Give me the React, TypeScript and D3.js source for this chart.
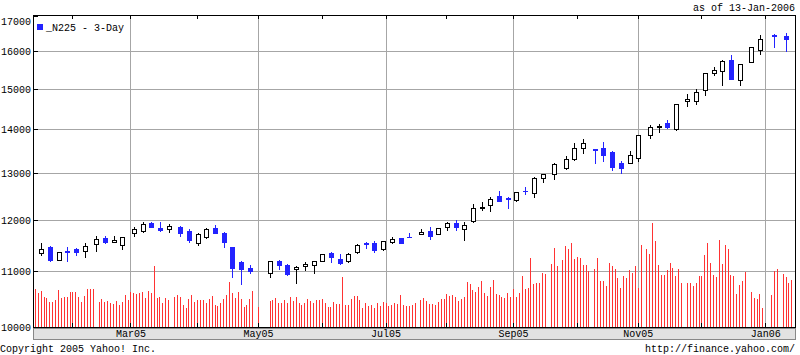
import React from "react";
import * as d3 from "d3";

// ---- data ----
const priceTicks = [10000, 11000, 12000, 13000, 14000, 15000, 16000, 17000];
// weekday index (0 = 13-Jan-2005) of the first weekday of each month
const monthStarts = [13, 33, 56, 77, 99, 121, 142, 165, 187, 208, 230, 252];
const monthLabels = ["", "Mar05", "", "May05", "", "Jul05", "", "Sep05", "", "Nov05", "", "Jan06"];
const legendLabel = "_N225 - 3-Day";
const asOfLabel = "as of 13-Jan-2006";
const copyrightLabel = "Copyright 2005 Yahoo! Inc.";
const urlLabel = "http://finance.yahoo.com/";

// 3-day candles: [weekday index, open, high, low, close]
const candles: [number, number, number, number, number][] = [
  [2, 11339, 11535, 11301, 11417],
  [5, 11467, 11480, 11197, 11210],
  [8, 11205, 11359, 11205, 11359],
  [11, 11382, 11455, 11197, 11374],
  [14, 11422, 11442, 11313, 11371],
  [17, 11378, 11535, 11261, 11474],
  [21, 11515, 11678, 11390, 11613],
  [24, 11633, 11678, 11546, 11566],
  [27, 11554, 11672, 11554, 11594],
  [30, 11495, 11652, 11428, 11652],
  [34, 11733, 11853, 11685, 11813],
  [37, 11773, 11961, 11753, 11915],
  [40, 11941, 11961, 11853, 11853],
  [43, 11839, 11961, 11773, 11805],
  [46, 11813, 11915, 11753, 11873],
  [50, 11859, 11886, 11672, 11733],
  [53, 11773, 11813, 11554, 11594],
  [56, 11535, 11733, 11495, 11713],
  [59, 11652, 11833, 11633, 11813],
  [62, 11833, 11894, 11733, 11733],
  [65, 11733, 11753, 11455, 11554],
  [68, 11455, 11455, 10895, 11052],
  [71, 11167, 11186, 10756, 11034],
  [74, 11052, 11110, 10959, 10996],
  [81, 10959, 11186, 10884, 11186],
  [84, 11186, 11205, 11034, 11110],
  [87, 11110, 11129, 10922, 10940],
  [90, 11034, 11089, 10774, 11071],
  [93, 11089, 11167, 11015, 11129],
  [96, 11110, 11186, 10959, 11186],
  [99, 11186, 11320, 11186, 11320],
  [102, 11339, 11359, 11167, 11261],
  [105, 11224, 11320, 11129, 11148],
  [108, 11186, 11339, 11167, 11320],
  [111, 11359, 11515, 11339, 11495],
  [114, 11542, 11554, 11436, 11530],
  [117, 11535, 11574, 11359, 11397],
  [120, 11417, 11574, 11397, 11574],
  [123, 11554, 11652, 11535, 11613],
  [126, 11635, 11635, 11550, 11550],
  [129, 11667, 11745, 11652, 11660],
  [133, 11713, 11825, 11713, 11765],
  [136, 11785, 11865, 11625, 11685],
  [139, 11713, 11833, 11713, 11833],
  [142, 11865, 11968, 11799, 11947],
  [145, 11947, 12008, 11805, 11865],
  [148, 11825, 11968, 11599, 11907],
  [151, 11988, 12329, 11968, 12244],
  [154, 12247, 12377, 12215, 12262],
  [157, 12307, 12475, 12194, 12433],
  [160, 12496, 12605, 12391, 12391],
  [163, 12467, 12475, 12256, 12433],
  [166, 12412, 12584, 12391, 12584],
  [169, 12617, 12697, 12554, 12605],
  [172, 12575, 12922, 12488, 12887],
  [175, 12887, 12976, 12800, 12976],
  [179, 12976, 13235, 12878, 13199],
  [183, 13109, 13379, 13087, 13312],
  [186, 13312, 13681, 13289, 13564],
  [189, 13564, 13774, 13449, 13681],
  [193, 13541, 13541, 13222, 13527],
  [196, 13564, 13704, 13267, 13404],
  [199, 13472, 13495, 13065, 13131],
  [202, 13222, 13267, 12998, 13109],
  [205, 13222, 13495, 13222, 13404],
  [208, 13334, 13869, 13267, 13869],
  [212, 13869, 14108, 13797, 14059],
  [215, 14059, 14132, 13940, 14082],
  [218, 14156, 14228, 14035, 14059],
  [221, 14011, 14623, 13988, 14623],
  [225, 14698, 14875, 14571, 14747],
  [228, 14698, 15001, 14623, 14925],
  [231, 14976, 15417, 14849, 15417],
  [234, 15417, 15575, 15365, 15496],
  [237, 15470, 15763, 15105, 15736],
  [240, 15763, 15898, 15259, 15259],
  [243, 15234, 15656, 15105, 15656],
  [247, 15710, 16116, 15710, 16116],
  [250, 16034, 16451, 15926, 16338],
  [255, 16452, 16479, 16116, 16437],
  [259, 16429, 16507, 16015, 16346],
];

// daily volume (millions of shares), one per weekday from 13-Jan-2005; 0 = market holiday
const volumes = [
  943, 843, 893, 743, 718, 618, 618, 668, 918, 718,
  743, 743, 868, 868, 868, 743, 618, 768, 943, 943,
  943, 0, 618, 693, 618, 643, 593, 568, 643, 543,
  618, 793, 668, 868, 843, 818, 843, 868, 718, 893,
  843, 1518, 718, 743, 593, 718, 668, 0, 743, 793,
  743, 543, 468, 693, 793, 618, 668, 668, 668, 593,
  693, 768, 543, 518, 593, 693, 793, 1118, 843, 718,
  868, 693, 493, 543, 693, 893, 0, 493, 0, 0,
  0, 643, 668, 718, 593, 593, 668, 593, 743, 643,
  743, 593, 543, 593, 693, 643, 593, 668, 668, 693,
  593, 493, 493, 618, 568, 568, 1243, 543, 543, 693,
  768, 768, 668, 468, 593, 518, 543, 468, 593, 518,
  618, 593, 518, 543, 593, 568, 793, 543, 518, 518,
  543, 593, 0, 668, 718, 643, 568, 568, 543, 618,
  693, 693, 818, 768, 793, 743, 643, 693, 743, 1118,
  1068, 918, 868, 993, 1143, 843, 768, 993, 1168, 818,
  793, 743, 718, 843, 743, 943, 743, 843, 1268, 943,
  968, 1718, 1068, 1093, 1093, 1343, 1318, 0, 1568, 1968,
  1518, 0, 1668, 2018, 1943, 2093, 1693, 1743, 1718, 1543,
  1543, 1393, 0, 1443, 1718, 1143, 1143, 1018, 1593, 1518,
  1443, 1218, 968, 1268, 1218, 1418, 1343, 1518, 968, 2043,
  0, 1943, 1818, 2593, 2143, 1543, 1293, 1293, 1418, 1593,
  1468, 1268, 1443, 1093, 0, 1093, 1093, 1018, 1093, 1268,
  1268, 1793, 2093, 1593, 1293, 1243, 2168, 1568, 2043, 1943,
  1293, 1268, 818, 1043, 1143, 1368, 0, 868, 718, 693,
  818, 468, 0, 0, 793, 1400, 1450, 0, 1325, 1250,
  1100, 1175,
];

const BLUE = "#2323ff";
const RED = "#ff3333";
const GRID = "#a6a6a6";

export default function App() {
  const L = 33, R = 795, T = 15, B = 327;
  const x = d3.scaleLinear().domain([-0.8, 262.3]).range([33, 795.6]);
  const y = d3.scaleLog().domain([10000, 17000]).range([327, 16]);
  const yv = d3.scaleLinear().domain([0, 5000]).range([327, 127]);
  const h = (v: number) => Math.floor(v) + 0.5;

  return (
    <svg
      width={800}
      height={355}
      style={{ position: "absolute", left: 0, top: 0, display: "block" }}
      fontFamily="'Liberation Mono', 'DejaVu Sans Mono', monospace"
      fontSize={10}
    >
      <rect x={0} y={0} width={800} height={355} fill="#fff" />

      {/* horizontal grid */}
      {priceTicks.slice(1, -1).map((p) => (
        <line key={"hg" + p} x1={L + 5} x2={R} y1={h(y(p))} y2={h(y(p))} stroke={GRID} strokeWidth={1} />
      ))}
      {/* vertical grid */}
      {monthStarts.map((d, i) =>
        monthLabels[i] ? (
          <line key={"vg" + d} x1={h(x(d))} x2={h(x(d))} y1={T + 1} y2={B} stroke={GRID} strokeWidth={1} />
        ) : null
      )}

      {/* volume bars */}
      {volumes.map((v, i) =>
        v > 0 ? (
          <line key={"v" + i} x1={h(x(i))} x2={h(x(i))} y1={B} y2={Math.round(yv(v))} stroke={RED} strokeWidth={1} />
        ) : null
      )}

      {/* candles */}
      {candles.map(([d, o, hi, lo, c]) => {
        const cx = Math.round(x(d));
        const up = c >= o;
        const col = up ? "#000" : BLUE;
        const yt = Math.round(y(Math.max(o, c)));
        const yb = Math.round(y(Math.min(o, c)));
        const yh = Math.round(y(hi));
        const yl = Math.round(y(lo));
        const body =
          yb - yt < 1 ? (
            <line x1={cx - 2} x2={cx + 3} y1={yt + 0.5} y2={yt + 0.5} stroke={col} strokeWidth={1} />
          ) : up ? (
            <rect x={cx - 1.5} y={yt + 0.5} width={4} height={yb - yt} fill="#fff" stroke="#000" strokeWidth={1} />
          ) : (
            <rect x={cx - 2} y={yt} width={5} height={yb - yt + 1} fill={BLUE} />
          );
        return (
          <g key={"c" + d}>
            <line x1={cx + 0.5} x2={cx + 0.5} y1={yh} y2={yl + 1} stroke={col} strokeWidth={1} />
            {body}
          </g>
        );
      })}

      {/* frame */}
      <line x1={L + 0.5} x2={L + 0.5} y1={T} y2={B + 1} stroke="#000" />
      <line x1={L} x2={R + 1} y1={T + 0.5} y2={T + 0.5} stroke="#000" />
      <line x1={R + 0.5} x2={R + 0.5} y1={T} y2={B + 1} stroke="#000" />
      <line x1={L} x2={R + 1} y1={B + 0.5} y2={B + 0.5} stroke="#000" />

      {/* y ticks + labels */}
      {priceTicks.map((p) => (
        <g key={"yt" + p}>
          <line x1={L} x2={L + 5} y1={h(y(p))} y2={h(y(p))} stroke="#000" />
          <text x={31} y={Math.max(y(p), 21)} dy="0.35em" textAnchor="end" fill="#000">
            {p}
          </text>
        </g>
      ))}

      {/* month ticks */}
      {monthStarts.map((d) => (
        <g key={"mt" + d}>
          <line x1={h(x(d))} x2={h(x(d))} y1={T} y2={T + 4} stroke="#000" />
          <line x1={h(x(d))} x2={h(x(d))} y1={B - 4} y2={B} stroke="#000" />
        </g>
      ))}

      {/* date band */}
      <rect x={L + 0.5} y={B + 1.5} width={R - L} height={11} fill="#e2e2e2" stroke="#888" strokeWidth={1} />
      {monthStarts.map((d, i) =>
        monthLabels[i] ? (
          <text key={"ml" + d} x={x(d)} y={337} textAnchor="middle" fill="#000">
            {monthLabels[i]}
          </text>
        ) : null
      )}

      {/* legend */}
      <rect x={37} y={24} width={6} height={6} fill={BLUE} />
      <text x={46} y={31} fill="#000">{legendLabel}</text>

      <text x={795} y={11} textAnchor="end" fill="#000">{asOfLabel}</text>
      <text x={0} y={352} fill="#000">{copyrightLabel}</text>
      <text x={795} y={352} textAnchor="end" fill="#000">{urlLabel}</text>
    </svg>
  );
}
